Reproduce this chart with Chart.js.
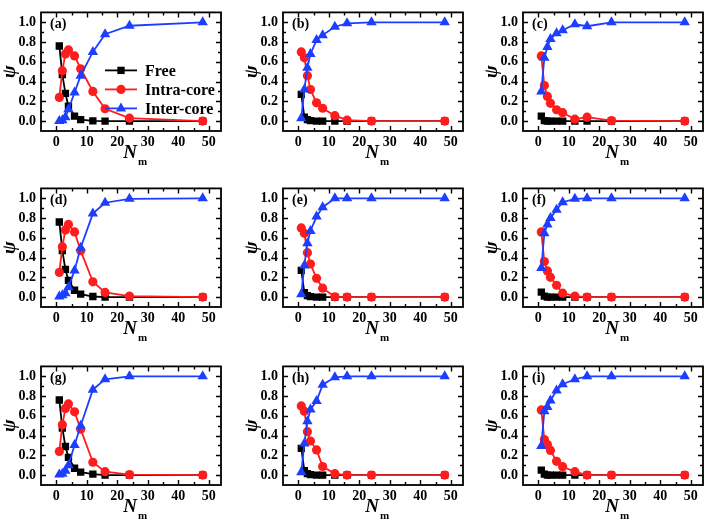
<!DOCTYPE html>
<html><head><meta charset="utf-8">
<script src="https://cdn.jsdelivr.net/npm/chart.js@4.4.1/dist/chart.umd.min.js"></script>
<style>
body{margin:0;background:#fff;}
#wrap{position:relative;width:709px;height:521px;overflow:hidden;background:#fff;}
#wrap canvas{position:absolute;}
</style>
</head><body><div id="wrap"></div>
<script>
// ---- data ----
const nm = [1, 2, 3, 4, 6, 8, 12, 16, 24, 48];
const xTicks = [0, 10, 20, 30, 40, 50];
const xMinorTicks = [5, 15, 25, 35, 45];
const yTicks = [0, 0.2, 0.4, 0.6, 0.8, 1.0];
const yMinorTicks = [0.1, 0.3, 0.5, 0.7, 0.9];
const seriesNames = ['Free', 'Intra-core', 'Inter-core'];
const panelLabels = ['(a)', '(b)', '(c)', '(d)', '(e)', '(f)', '(g)', '(h)', '(i)'];

const freeA  = [0.76, 0.47, 0.28, 0.15, 0.05, 0.015, 0.003, 0, 0, 0];
const intraA = [0.24, 0.51, 0.68, 0.72, 0.66, 0.53, 0.30, 0.125, 0.03, 0];
const interA = [0.0, 0.01, 0.04, 0.12, 0.29, 0.46, 0.70, 0.88, 0.965, 1.0];

const freeB  = [0.27, 0.04, 0.015, 0.005, 0, 0, 0, 0, 0, 0];
const intraB = [0.70, 0.64, 0.46, 0.32, 0.185, 0.13, 0.055, 0.01, 0, 0];
const interB = [0.03, 0.32, 0.54, 0.68, 0.82, 0.87, 0.955, 0.99, 1.0, 1.0];

const freeC  = [0.05, 0.005, 0, 0, 0, 0, 0, 0, 0, 0];
const intraC = [0.66, 0.36, 0.25, 0.18, 0.115, 0.085, 0.02, 0.04, 0.005, 0];
const interC = [0.30, 0.64, 0.75, 0.83, 0.89, 0.92, 0.98, 0.96, 1.0, 1.0];

const freeD  = [0.76, 0.47, 0.28, 0.17, 0.07, 0.03, 0.006, 0, 0, 0];
const intraD = [0.25, 0.51, 0.68, 0.735, 0.66, 0.47, 0.155, 0.047, 0.01, 0];
const interD = [0.005, 0.02, 0.04, 0.10, 0.27, 0.50, 0.845, 0.955, 0.995, 1.0];

const freeE  = [0.27, 0.045, 0.015, 0.005, 0, 0, 0, 0, 0, 0];
const intraE = [0.70, 0.645, 0.45, 0.335, 0.19, 0.09, 0.003, 0, 0, 0];
const interE = [0.03, 0.32, 0.545, 0.67, 0.815, 0.91, 1.0, 1.0, 1.0, 1.0];

const freeF  = [0.05, 0.01, 0, 0, 0, 0, 0, 0, 0, 0];
const intraF = [0.66, 0.36, 0.265, 0.20, 0.12, 0.04, 0.01, 0, 0, 0];
const interF = [0.295, 0.645, 0.735, 0.80, 0.885, 0.96, 0.995, 1.0, 1.0, 1.0];

const freeG  = [0.76, 0.475, 0.29, 0.18, 0.07, 0.03, 0.01, 0, 0, 0];
const intraG = [0.24, 0.51, 0.675, 0.72, 0.64, 0.465, 0.13, 0.035, 0.005, 0];
const interG = [0.005, 0.015, 0.045, 0.10, 0.305, 0.50, 0.865, 0.97, 1.0, 1.0];

const freeH  = [0.27, 0.045, 0.015, 0.005, 0, 0, 0, 0, 0, 0];
const intraH = [0.70, 0.645, 0.44, 0.345, 0.255, 0.087, 0.015, 0, 0, 0];
const interH = [0.03, 0.32, 0.545, 0.665, 0.75, 0.915, 0.99, 1.0, 1.0, 1.0];

const freeI  = [0.05, 0.01, 0, 0, 0, 0, 0, 0, 0, 0];
const intraI = [0.66, 0.36, 0.31, 0.25, 0.14, 0.085, 0.035, 0, 0, 0];
const interI = [0.295, 0.645, 0.69, 0.755, 0.855, 0.92, 0.97, 1.0, 1.0, 1.0];

const panelData = [
  [freeA, intraA, interA], [freeB, intraB, interB], [freeC, intraC, interC],
  [freeD, intraD, interD], [freeE, intraE, interE], [freeF, intraF, interF],
  [freeG, intraG, interG], [freeH, intraH, interH], [freeI, intraI, interI]
];

// ---- layout & style ----
const colLeft = [41, 283, 523];
const rowTop = [3, 179, 357];
const boxW = 180, boxH = 128;
const YW = 42, XH = 40, PT = 4, PR = 6;
const FONT = '"Liberation Serif", "Times New Roman", serif';
const colors = ['#000000', 'rgb(255,28,28)', 'rgb(30,62,255)'];
const styles = ['rect', 'circle', 'triangle'];
const radii = [5.2, 4.6, 6];

function drawMarker(ctx, style, x, y, r, color) {
  ctx.fillStyle = color;
  ctx.beginPath();
  if (style === 'rect') {
    const s = r * Math.SQRT1_2;
    ctx.rect(x - s, y - s, 2 * s, 2 * s);
  } else if (style === 'circle') {
    ctx.arc(x, y, r, 0, Math.PI * 2);
  } else {
    ctx.moveTo(x, y - r);
    ctx.lineTo(x + r * Math.cos(Math.PI / 6), y + r * 0.5);
    ctx.lineTo(x - r * Math.cos(Math.PI / 6), y + r * 0.5);
    ctx.closePath();
  }
  ctx.fill();
}

const framePlugin = {
  id: 'frame',
  afterDraw(chart, args, opts) {
    const { ctx, chartArea: a, scales } = chart;
    const x = scales.x, y = scales.y;
    ctx.save();
    ctx.strokeStyle = '#000';
    ctx.lineWidth = 1.8;
    ctx.strokeRect(a.left, a.top, a.right - a.left, a.bottom - a.top);
    ctx.lineWidth = 1.4;
    ctx.beginPath();
    const xt = (vals, len) => vals.forEach(v => {
      const px = Math.round(x.getPixelForValue(v)) + 0.5;
      ctx.moveTo(px, a.bottom); ctx.lineTo(px, a.bottom - len);
      ctx.moveTo(px, a.top); ctx.lineTo(px, a.top + len);
    });
    const yt = (vals, len) => vals.forEach(v => {
      const py = Math.round(y.getPixelForValue(v)) + 0.5;
      ctx.moveTo(a.left, py); ctx.lineTo(a.left + len, py);
      ctx.moveTo(a.right, py); ctx.lineTo(a.right - len, py);
    });
    xt(xTicks, 5); xt(xMinorTicks, 3);
    yt(yTicks, 5); yt(yMinorTicks, 3);
    ctx.stroke();

    ctx.fillStyle = '#000';
    ctx.textBaseline = 'middle';
    ctx.textAlign = 'left';
    ctx.font = 'bold 14px ' + FONT;
    ctx.fillText(opts.label, a.left + 9, a.top + 12);

    const cx = (a.left + a.right) / 2;
    ctx.textAlign = 'center';
    ctx.font = 'italic bold 19px ' + FONT;
    ctx.fillText('N', cx - 1, a.bottom + 22);
    ctx.textAlign = 'left';
    ctx.font = 'bold 11px ' + FONT;
    ctx.fillText('m', cx + 7, a.bottom + 31);

    if (opts.legend) {
      ctx.font = 'bold 16px ' + FONT;
      seriesNames.forEach((name, i) => {
        const ly = a.top + 58 + i * 19;
        const x0 = a.left + 64, x1 = a.left + 96;
        ctx.strokeStyle = colors[i];
        ctx.lineWidth = 1.8;
        ctx.beginPath(); ctx.moveTo(x0, ly); ctx.lineTo(x1, ly); ctx.stroke();
        drawMarker(ctx, styles[i], (x0 + x1) / 2, ly, radii[i], colors[i]);
        ctx.fillStyle = '#000';
        ctx.fillText(name, a.left + 104, ly + 1);
      });
    }
    ctx.restore();
  }
};

const wrap = document.getElementById('wrap');
panelData.forEach((series, idx) => {
  const col = idx % 3, row = Math.floor(idx / 3);
  const cw = YW + boxW + PR, ch = PT + boxH + XH;
  const cv = document.createElement('canvas');
  cv.width = cw; cv.height = ch;
  cv.style.left = (colLeft[col] - YW) + 'px';
  cv.style.top = (rowTop[row] - PT) + 'px';
  cv.style.width = cw + 'px'; cv.style.height = ch + 'px';
  wrap.appendChild(cv);

  const datasets = series.map((vals, i) => ({
    label: seriesNames[i],
    data: vals.map((v, k) => ({ x: nm[k], y: v })),
    borderColor: colors[i],
    backgroundColor: colors[i],
    pointBackgroundColor: colors[i],
    pointBorderColor: colors[i],
    pointBorderWidth: 0,
    pointStyle: styles[i],
    pointRadius: radii[i],
    borderWidth: 1.8,
    tension: 0,
    order: 3 - i
  }));

  new Chart(cv, {
    type: 'line',
    data: { datasets },
    options: {
      responsive: false,
      animation: false,
      devicePixelRatio: 1,
      layout: { padding: { top: PT, right: PR, left: 0, bottom: 0 } },
      plugins: {
        legend: { display: false },
        tooltip: { enabled: false },
        frame: { label: panelLabels[idx], legend: idx === 0 }
      },
      scales: {
        x: {
          type: 'linear', min: -5, max: 54,
          grid: { display: false, drawTicks: false },
          border: { display: false },
          afterBuildTicks: s => { s.ticks = xTicks.map(v => ({ value: v })); },
          afterFit: s => { s.height = XH; },
          ticks: { color: '#000', padding: 3, maxRotation: 0,
                   font: { family: FONT, size: 14, weight: 'bold' },
                   callback: v => String(v) }
        },
        y: {
          type: 'linear', min: -0.1, max: 1.1,
          grid: { display: false, drawTicks: false },
          border: { display: false },
          afterBuildTicks: s => { s.ticks = yTicks.map(v => ({ value: v })); },
          afterFit: s => { s.width = YW; },
          title: { display: true, text: 'ψ', color: '#000', padding: 0,
                   font: { family: FONT, size: 19, style: 'italic', weight: 'bold' } },
          ticks: { color: '#000', padding: 5,
                   font: { family: FONT, size: 14, weight: 'bold' },
                   callback: v => Number(v).toFixed(1) }
        }
      }
    },
    plugins: [framePlugin]
  });
});
</script>
</body></html>
